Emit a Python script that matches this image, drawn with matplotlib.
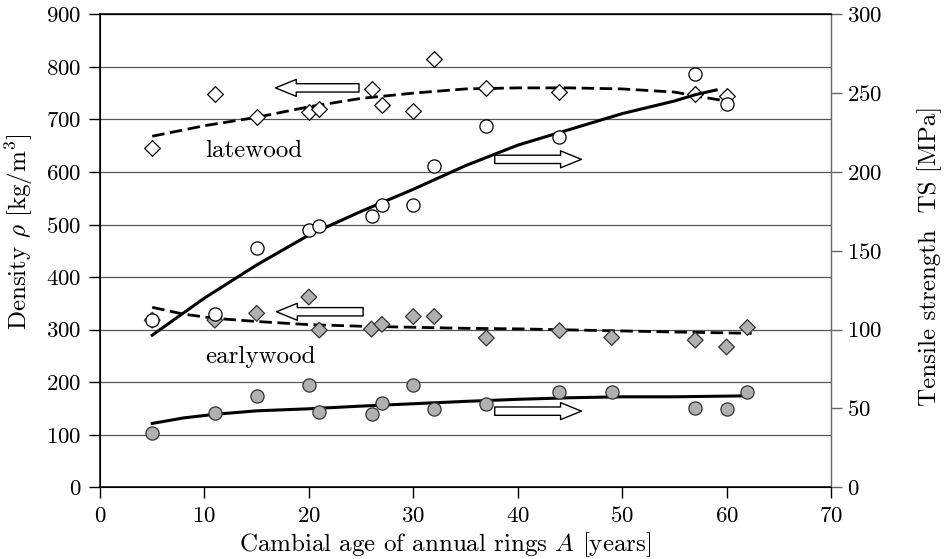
import matplotlib.pyplot as plt

plt.rcParams['font.family'] = 'cmr10'
plt.rcParams['mathtext.fontset'] = 'cm'
plt.rcParams['axes.formatter.use_mathtext'] = True
plt.rcParams['font.size'] = 16.5

# latewood: density (left axis) and tensile strength (right axis)
age_late = [5, 11, 15, 20, 21, 26, 27, 30, 32, 37, 44, 57, 60]
dens_late = [645, 749, 705, 714, 719, 757, 728, 716, 814, 760, 752, 748, 744]
ts_late = [106, 110, 152, 163, 166, 172, 179, 179, 204, 229, 222, 262, 243]

# earlywood
age_early = [5, 11, 15, 20, 21, 26, 27, 30, 32, 37, 44, 49, 57, 60, 62]
dens_early = [318, 318, 331, 362, 299, 301, 310, 325, 325, 284, 298, 285, 280, 267, 304]
ts_early = [34.2, 46.9, 58, 65.2, 47.9, 46.3, 53.6, 64.8, 49.6, 52.8, 60.6, 60.6, 50.5, 49.4, 60.6]

# trend curves
fit_late_dens_x = [5, 10, 15, 20, 25, 30, 35, 40, 45, 50, 55, 57.5, 60]
fit_late_dens_y = [668, 688, 704, 724, 740, 750, 758, 760, 760, 758, 752, 743, 735]

fit_late_ts_x = [5, 10, 15, 20, 25, 30, 35, 40, 45, 50, 55, 57, 59]
fit_late_ts_y = [96.5, 120, 141, 160, 175, 189, 204, 217, 227, 237, 245, 249, 252]

fit_early_dens_x = [5, 8, 11, 15, 20, 25, 30, 35, 40, 45, 50, 55, 62.4]
fit_early_dens_y = [342.5, 329.5, 321.5, 315.5, 309.5, 306.5, 304.5, 302.5, 301.5, 299.5, 297.5, 295.5, 293]

fit_early_ts_x = [5, 8, 11, 15, 20, 25, 30, 35, 40, 45, 50, 55, 61.8]
fit_early_ts_y = [40.5, 44, 46.3, 48.5, 49.8, 51.5, 53, 54.5, 55.8, 56.8, 57.4, 57.4, 58]

grey = '#b0b0b0'

fig = plt.figure(figsize=(9.5, 5.59), dpi=100)
ax = fig.add_axes([0.10526, 0.12826, 0.76947, 0.84616])
ax2 = ax.twinx()

# density on the left axis
ax.plot(fit_late_dens_x, fit_late_dens_y, color='black', lw=2.0, dashes=(4.5, 2))
ax.plot(fit_early_dens_x, fit_early_dens_y, color='black', lw=2.0, dashes=(4.5, 2))
ax.scatter(age_late, dens_late, marker='D', s=64, facecolors='white',
           edgecolors='black', linewidths=0.9, zorder=3)
early_fc = ['white'] + [grey] * (len(age_early) - 1)
ax.scatter(age_early, dens_early, marker='D', s=64, facecolors=early_fc,
           edgecolors='#333333', linewidths=0.9, zorder=3)

# tensile strength on the right axis
ax2.plot(fit_late_ts_x, fit_late_ts_y, color='black', lw=2.2)
ax2.plot(fit_early_ts_x, fit_early_ts_y, color='black', lw=2.2)
ax2.scatter(age_late, ts_late, marker='o', s=90, facecolors='white',
            edgecolors='black', linewidths=0.9, zorder=3)
ax2.scatter(age_early, ts_early, marker='o', s=90, facecolors=grey,
            edgecolors='#333333', linewidths=0.9, zorder=3)

# hollow arrows showing which axis each curve belongs to
arrow = dict(arrowstyle='simple,head_length=1.5,head_width=1.22,tail_width=0.6',
             fc='white', ec='black', lw=1, mutation_scale=10, shrinkA=0, shrinkB=0)
ax.annotate('', xy=(16.8, 760), xytext=(24.8, 760), arrowprops=arrow)
ax.annotate('', xy=(16.9, 334), xytext=(25.2, 334), arrowprops=arrow)
ax2.annotate('', xy=(46.1, 208), xytext=(37.8, 208), arrowprops=arrow)
ax2.annotate('', xy=(46.1, 48.3), xytext=(37.8, 48.3), arrowprops=arrow)

ax.text(10.05, 629, 'latewood', va='baseline', fontsize=18)
ax.text(10.05, 236, 'earlywood', va='baseline', fontsize=18)

ax.set_xlim(0, 70)
ax.set_ylim(0, 900)
ax2.set_ylim(0, 300)
ax.set_xticks(range(0, 71, 10))
ax.set_yticks(range(0, 901, 100))
ax2.set_yticks(range(0, 301, 50))

ax.yaxis.grid(True, color='#555555', lw=0.9)
ax.set_axisbelow(True)

ax.tick_params(direction='out', length=8, width=1, pad=5.5)
ax2.tick_params(direction='out', length=8, width=1, pad=3.5, color='#666666')
for s in ['left', 'bottom', 'top']:
    ax.spines[s].set_linewidth(1.1)
ax2.spines['right'].set_color('#666666')
ax2.spines['right'].set_linewidth(0.9)

ax.set_xlabel('Cambial age of annual rings $A$ [years]', fontsize=18, labelpad=3)
ax.set_ylabel(r'Density $\rho$ [kg/m$^3$]', fontsize=18, labelpad=8)
ax2.set_ylabel('Tensile strength  TS [MPa]', fontsize=18, labelpad=25)
ax.xaxis.label.set_x(0.472)
ax.yaxis.label.set_y(0.54)
ax2.yaxis.label.set_y(0.489)

fig.savefig('out.png', dpi=100)
